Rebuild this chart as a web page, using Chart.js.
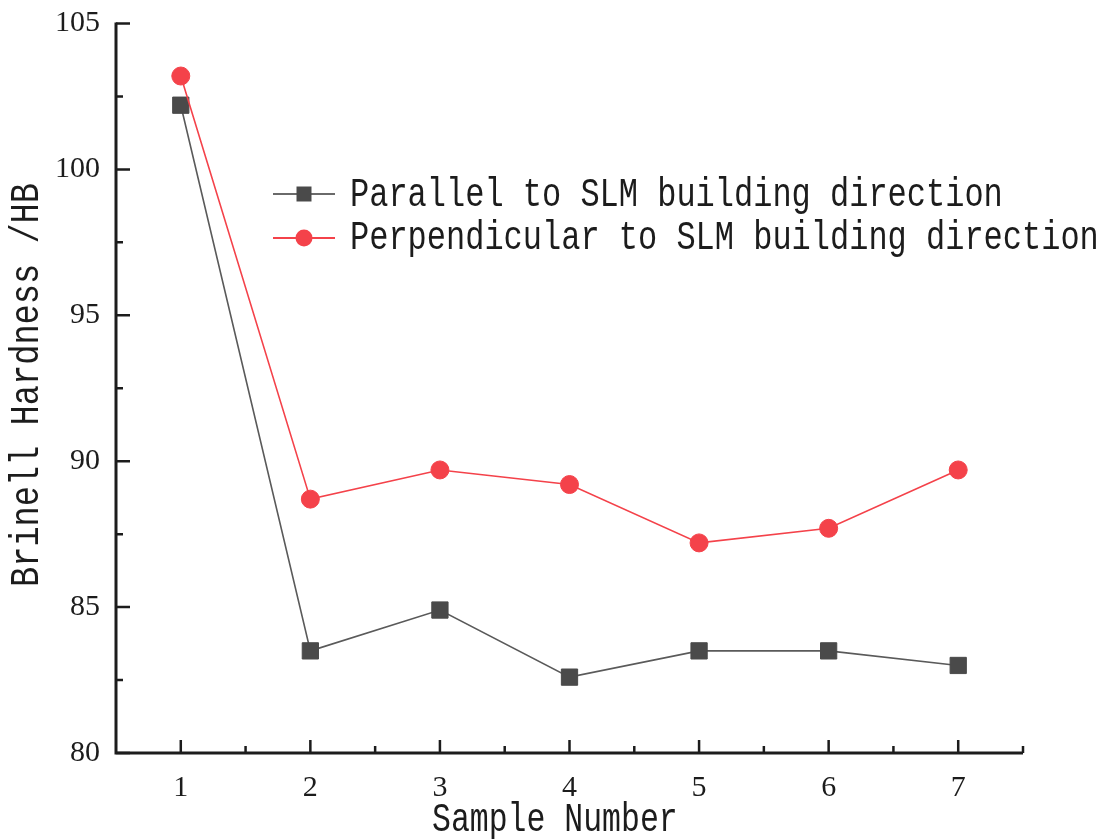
<!DOCTYPE html>
<html>
<head>
<meta charset="utf-8">
<script src="https://cdn.jsdelivr.net/npm/chart.js@4.4.1/dist/chart.umd.min.js"></script>
<style>
  html, body { margin: 0; background: #fff; }
  #wrap { width: 1112px; height: 840px; }
</style>
</head>
<body>
<div id="wrap"><canvas id="hardness"></canvas></div>
<script>
const samples = ['1', '2', '3', '4', '5', '6', '7'];
const parallelHB = [102.2, 83.5, 84.9, 82.6, 83.5, 83.5, 83.0];
const perpendicularHB = [103.2, 88.7, 89.7, 89.2, 87.2, 87.7, 89.7];
const yTicks = [80, 85, 90, 95, 100, 105];
const seriesNames = ['Parallel to SLM building direction', 'Perpendicular to SLM building direction'];
const xTitle = 'Sample Number';
const yTitle = 'Brinell Hardness /HB';

const INK = '#1c1c1c';
const GREY = '#4a4a4a';
const RED = '#f4424a';
const MONO = '"Liberation Mono", "DejaVu Sans Mono", monospace';
const SERIF = '"Liberation Serif", "DejaVu Serif", serif';

// tall, narrow monospace text: squeeze so each character advances `adv` px
function narrowText(ctx, text, x, y, size, adv, rot) {
  ctx.save();
  ctx.font = size + 'px ' + MONO;
  const k = adv / ctx.measureText('M').width;
  ctx.translate(x, y);
  if (rot) ctx.rotate(rot);
  ctx.scale(k, 1);
  ctx.fillStyle = INK;
  ctx.textAlign = 'left';
  ctx.textBaseline = 'alphabetic';
  ctx.fillText(text, 0, 0);
  ctx.restore();
}

// axes with inward major/minor ticks, axis titles and the in-plot legend
const frame = {
  id: 'frame',
  afterDraw(chart) {
    const { ctx, chartArea: a, scales: { x, y } } = chart;
    ctx.save();
    ctx.strokeStyle = INK;
    ctx.lineWidth = 2.5;
    ctx.beginPath();
    samples.forEach((s, i) => {
      const px = x.getPixelForValue(i);
      ctx.moveTo(px, a.bottom); ctx.lineTo(px, a.bottom - 13);
      const mx = x.getPixelForValue(i + 0.5);
      ctx.moveTo(mx, a.bottom); ctx.lineTo(mx, a.bottom - 7);
    });
    yTicks.forEach(v => {
      const py = y.getPixelForValue(v);
      ctx.moveTo(a.left, py); ctx.lineTo(a.left + 14, py);
      if (v < yTicks[yTicks.length - 1]) {
        const my = y.getPixelForValue(v + 2.5);
        ctx.moveTo(a.left, my); ctx.lineTo(a.left + 7, my);
      }
    });
    ctx.stroke();
    ctx.lineWidth = 3;
    ctx.beginPath();
    ctx.moveTo(a.left, a.top - 1);
    ctx.lineTo(a.left, a.bottom);
    ctx.lineTo(a.right, a.bottom);
    ctx.stroke();

    // legend
    const rows = [
      { y: 194, base: 206, color: GREY, line: '#6a6a6a', shape: 'rect' },
      { y: 238, base: 249, color: RED, line: RED, shape: 'circle' }
    ];
    rows.forEach((r, i) => {
      ctx.strokeStyle = r.line;
      ctx.lineWidth = 2;
      ctx.beginPath(); ctx.moveTo(273, r.y); ctx.lineTo(335, r.y); ctx.stroke();
      ctx.fillStyle = r.color;
      ctx.beginPath();
      if (r.shape === 'rect') ctx.rect(296.5, r.y - 7.5, 15, 15);
      else ctx.arc(304, r.y, 8.5, 0, Math.PI * 2);
      ctx.fill();
      narrowText(ctx, seriesNames[i], 350, r.base, 40, 19.2);
    });

    // axis titles
    narrowText(ctx, xTitle, 432, 831, 40, 18.9);
    narrowText(ctx, yTitle, 38, 587, 40, 20.2, -Math.PI / 2);
    ctx.restore();
  }
};

new Chart(document.getElementById('hardness'), {
  type: 'line',
  data: {
    labels: samples,
    datasets: [
      {
        label: seriesNames[1],
        data: perpendicularHB,
        order: 0,
        borderColor: RED,
        backgroundColor: RED,
        borderWidth: 1.6,
        pointStyle: 'circle',
        pointRadius: 9,
        pointBorderWidth: 1,
        pointBackgroundColor: RED,
        pointBorderColor: RED,
        tension: 0
      },
      {
        label: seriesNames[0],
        data: parallelHB,
        order: 1,
        borderColor: '#5a5a5a',
        backgroundColor: GREY,
        borderWidth: 1.6,
        pointStyle: 'rect',
        pointRadius: 11.5,
        pointBorderWidth: 1,
        pointBackgroundColor: GREY,
        pointBorderColor: GREY,
        tension: 0
      }
    ]
  },
  options: {
    responsive: true,
    maintainAspectRatio: false,
    animation: false,
    layout: { padding: { top: 23.5, right: 89, left: 0, bottom: 0 } },
    plugins: {
      legend: { display: false },
      tooltip: { enabled: false }
    },
    scales: {
      x: {
        type: 'category',
        offset: true,
        grid: { display: false, drawTicks: false },
        border: { display: false },
        ticks: { color: INK, padding: 17, font: { family: SERIF, size: 30 } },
        afterFit: s => { s.height = 87; s.paddingLeft = 0; s.paddingRight = 0; }
      },
      y: {
        min: 80,
        max: 105,
        grid: { display: false, drawTicks: false },
        border: { display: false },
        ticks: { color: INK, padding: 16, stepSize: 5, font: { family: SERIF, size: 30 } },
        afterBuildTicks: s => { s.ticks = yTicks.map(v => ({ value: v })); },
        afterFit: s => { s.width = 116; s.paddingTop = 0; s.paddingBottom = 0; }
      }
    }
  },
  plugins: [frame]
});
</script>
</body>
</html>
